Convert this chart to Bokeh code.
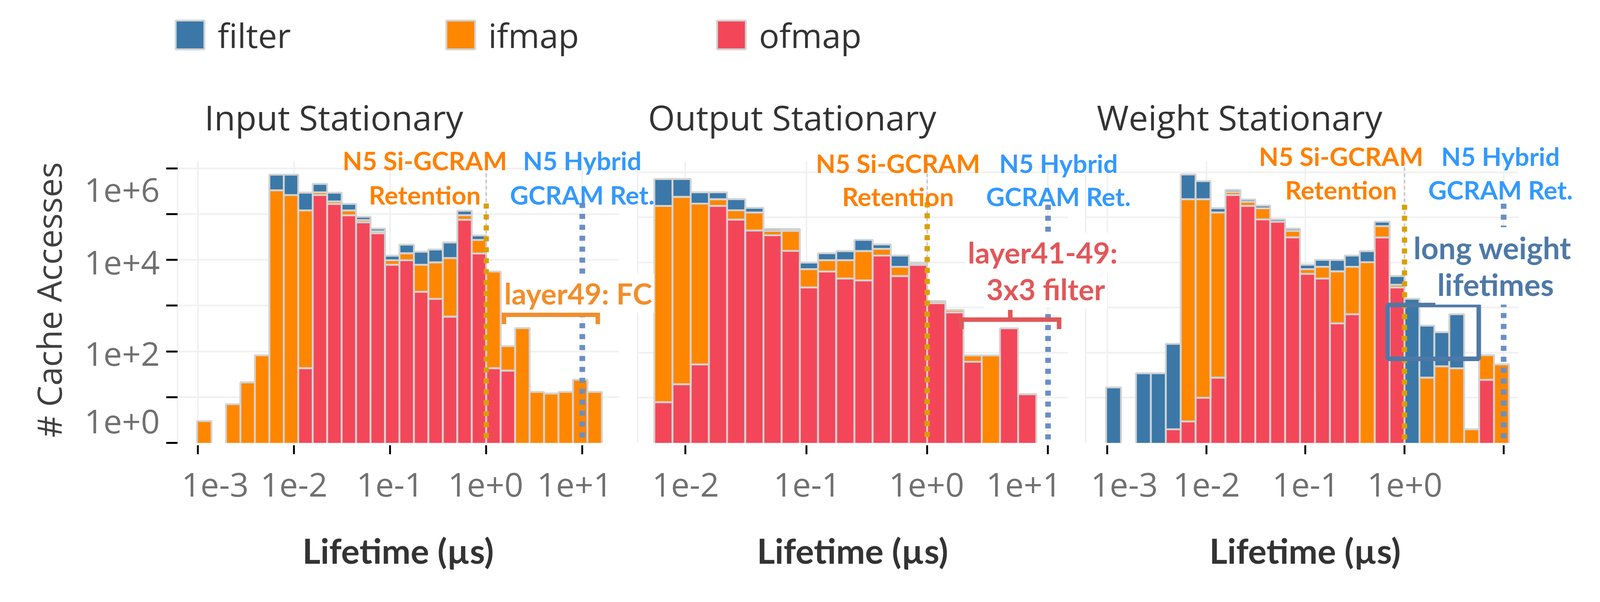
import math
from bokeh.plotting import figure
from bokeh.models import (Range1d, FixedTicker, Label, BoxAnnotation, Legend, LegendItem,
                          ColumnDataSource)
from bokeh.layouts import row, column
from bokeh.embed import file_html
from bokeh.resources import INLINE

# ---------------- data ----------------
CATEGORIES = ["filter", "ifmap", "ofmap"]
BIN_WIDTH_LOG2 = 0.5          # each lifetime bin spans half an octave (log2 of µs)

IS_BIN_LOG2 = [-10.0, -9.5, -9.0, -8.5, -8.0, -7.5, -7.0, -6.5, -6.0, -5.5, -5.0, -4.5, -4.0, -3.5,
               -3.0, -2.5, -2.0, -1.5, -1.0, -0.5, 0.0, 0.5, 1.0, 1.5, 2.0, 2.5, 3.0, 3.5]
IS_FILTER = [0, 0, 0, 0, 0, 396000, 466000, 173000, 157000, 104000, 46000, 13000, 6000, 2500,
             7600, 7200, 8000, 13000, 23400, 6800, 0, 0, 0, 0, 0, 0, 0, 0]
IS_IFMAP = [3, 0, 7, 21, 82, 330000, 260000, 120000, 37000, 23000, 26000, 8000, 4000, 2000,
            4100, 5800, 7400, 10400, 19600, 13400, 5500, 92, 322, 13, 12, 13, 24, 13]
IS_OFMAP = [0, 0, 0, 0, 0, 0, 0, 43, 261000, 166000, 94000, 66000, 38000, 7800,
            9800, 2000, 1400, 574, 75000, 13800, 43, 38, 0, 0, 0, 0, 0, 0]

OS_BIN_LOG2 = [-7.5, -7.0, -6.5, -6.0, -5.5, -5.0, -4.5, -4.0, -3.5, -3.0, -2.5, -2.0, -1.5,
               -1.0, -0.5, 0.0, 0.5, 1.0, 1.5, 2.0, 2.5]
OS_FILTER = [527000, 422000, 157000, 106000, 110000, 34000, 5600, 5000, 2800, 4800, 6600, 13800,
             5000, 6200, 600, 0, 0, 0, 0, 0, 0]
OS_IFMAP = [179000, 284000, 201000, 73000, 54000, 77000, 9700, 32000, 4300, 4900, 6800, 13900,
            5800, 3000, 500, 140, 100, 24, 87, 0, 0]
OS_OFMAP = [8, 20, 55, 179000, 89000, 51000, 40000, 18000, 2800, 6300, 4400, 4000,
            14200, 5000, 8800, 1250, 783, 63, 0, 347, 12]

WS_BIN_LOG2 = [-10.0, -9.5, -9.0, -8.5, -8.0, -7.5, -7.0, -6.5, -6.0, -5.5, -5.0, -4.5, -4.0, -3.5,
               -3.0, -2.5, -2.0, -1.5, -1.0, -0.5, 0.0, 0.5, 1.0, 1.5, 2.0, 2.5, 3.0]
WS_FILTER = [17, 0, 35, 35, 155, 639000, 383000, 31000, 43000, 27000, 23000, 10000, 6000, 1800,
             3400, 5000, 6200, 7700, 16000, 1800, 1560, 369, 235, 665, 0, 0, 0]
WS_IFMAP = [0, 0, 0, 0, 0, 252000, 252000, 128000, 50000, 42000, 69000, 0, 14000, 1500,
            3600, 5900, 7300, 10100, 28000, 400, 0, 28, 50, 45, 2, 63, 55]
WS_OFMAP = [0, 0, 0, 0, 2, 3, 10, 28, 313000, 179000, 90000, 80000, 36000, 5600,
            4400, 448, 710, 0, 35800, 2800, 0, 0, 0, 0, 0, 25, 0]

PANEL_TITLES = ["Input Stationary", "Output Stationary", "Weight Stationary"]
X_TICKS = [1e-3, 1e-2, 1e-1, 1.0, 10.0]
X_TICK_LABELS = ["1e-3", "1e-2", "1e-1", "1e+0", "1e+1"]
Y_TICKS = [1.0, 1e1, 1e2, 1e3, 1e4, 1e5, 1e6]
Y_TICK_LABELS = ["1e+0", "", "1e+2", "", "1e+4", "", "1e+6"]
X_TITLE = "Lifetime (µs)"
Y_TITLE = "# Cache Accesses"

RET_SI = 1.0      # N5 Si-GCRAM retention (µs)
RET_HYB = 10.0    # N5 hybrid GCRAM retention (µs)

# ---------------- styles ----------------
K = 4096 / 4257            # page pixels per picture pixel
FILTER_C, IFMAP_C, OFMAP_C = "#3b78a8", "#ff8700", "#f34759"
COLORS = {"filter": FILTER_C, "ifmap": IFMAP_C, "ofmap": OFMAP_C}
STROKE = "#d3d3d3"
GRID_C = "#f0f0f0"
TICK_TXT = "#707070"
DARK = "#333333"
ORANGE_TXT, BLUE_TXT = "#ff8000", "#3399ff"
GOLD, BLUE_DOT = "#d9a000", "#6a8ec6"
FC_C, RED_TXT, STEEL = "#f28e2b", "#e15759", "#4e79a7"
BOLD_FONT = "Lato"
REG_FONT = "Open Sans"
DESCENT = {"Lato": 0.213, "Open Sans": 0.293}   # em-box descent of each font
FLOOR = 0.1
PAGE_M = 8
FRAME_H = 722
TOP_BORDER, BOTTOM_BORDER = 412, 330
CANVAS_H = TOP_BORDER + FRAME_H + BOTTOM_BORDER
SW = 5 * K                # bar stroke width


def fs(px):
    return f"{px * K:.1f}px"


def make_panel(bins, filt, ifm, ofm, xr, yr, frame_w, left, right):
    p = figure(x_axis_type="log", y_axis_type="log", x_range=Range1d(*xr), y_range=Range1d(*yr),
               frame_width=frame_w, frame_height=FRAME_H, min_border_left=left,
               min_border_right=right, min_border_top=TOP_BORDER, min_border_bottom=BOTTOM_BORDER,
               toolbar_location=None, output_backend="svg", title=None)
    p.outline_line_color = None
    p.background_fill_alpha = 0
    p.border_fill_alpha = 0

    xt = FixedTicker(ticks=X_TICKS)
    yt = FixedTicker(ticks=Y_TICKS)
    ax = p.xaxis[0]
    ax.ticker = xt
    ax.major_label_overrides = {t: "" for t in X_TICKS}
    ax.major_label_text_font_size = "1px"
    ax.major_label_standoff = 0
    ax.axis_line_color = None
    ax.major_tick_line_color = "black"
    ax.major_tick_line_width = 5 * K
    ax.major_tick_in = -6
    ax.major_tick_out = 29
    ax.minor_tick_line_color = None

    ay = p.yaxis[0]
    ay.ticker = yt
    ay.major_label_overrides = {t: "" for t in Y_TICKS}
    ay.major_label_text_font_size = "1px"
    ay.major_label_standoff = 0
    ay.axis_line_color = GRID_C
    ay.axis_line_width = 4 * K
    ay.minor_tick_line_color = None
    ay.major_tick_line_color = None
    ay.major_tick_in = 0
    ay.major_tick_out = 0
    p.xgrid.ticker = xt
    p.ygrid.ticker = yt
    p.grid.grid_line_color = GRID_C
    p.grid.grid_line_width = 4 * K

    # stacked histogram: ofmap at the bottom, then ifmap, then filter
    cum = [0.0] * len(bins)
    for name, vals in (("ofmap", ofm), ("ifmap", ifm), ("filter", filt)):
        d = dict(left=[], right=[], bottom=[], top=[])
        for i, v in enumerate(vals):
            if v > 0:
                d["left"].append(2 ** bins[i])
                d["right"].append(2 ** (bins[i] + BIN_WIDTH_LOG2))
                d["bottom"].append(max(cum[i], FLOOR))
                d["top"].append(cum[i] + v)
            cum[i] += v
        p.quad(left="left", right="right", bottom="bottom", top="top",
               source=ColumnDataSource(d), fill_color=COLORS[name],
               line_color=STROKE, line_width=SW)
    return p


p1 = make_panel(IS_BIN_LOG2, IS_FILTER, IS_IFMAP, IS_OFMAP, (10 ** -3.2133, 10 ** 1.3855),
                (1.0, 10 ** 6.158), 1131, 454, 37)
p2 = make_panel(OS_BIN_LOG2, OS_FILTER, OS_IFMAP, OS_OFMAP, (10 ** -2.3953, 10 ** 1.1633),
                (1.0, 10 ** 6.247), 1101, 10, 36)
p3 = make_panel(WS_BIN_LOG2, WS_FILTER, WS_IFMAP, WS_OFMAP, (10 ** -3.2157, 10 ** 1.1504),
                (1.0, 10 ** 6.247), 1108, 10, 150)

# y ticks only on the first panel
a = p1.yaxis[0]
a.major_tick_line_color = "black"
a.major_tick_line_width = 5 * K
a.major_tick_out = 29

# retention reference lines
for p, top_si, top_hy in ((p1, 1.7e5, 1.75e5), (p2, 2.15e5, 1.9e5), (p3, 1.9e5, 2.0e5)):
    ymax = p.y_range.end
    p.segment(x0=[RET_SI], y0=[ymax], x1=[RET_SI], y1=[FLOOR], line_color="#c8c8c8",
              line_width=4 * K, line_dash="9 7")
    p.segment(x0=[RET_SI], y0=[top_si], x1=[RET_SI], y1=[FLOOR], line_color=GOLD,
              line_width=14 * K, line_dash="13 15")
    p.segment(x0=[RET_HYB], y0=[top_hy], x1=[RET_HYB], y1=[FLOOR], line_color=BLUE_DOT,
              line_width=15 * K, line_dash="13 15")


def bracket(p, x0, x1, ymid, ylo, ytop, color):
    p.line(x=[x0, x0, x1, x1], y=[ylo, ymid, ymid, ylo], line_color=color, line_width=12 * K,
           line_join="miter")
    xc = (x0 * x1) ** 0.5
    p.segment(x0=[xc], y0=[ymid], x1=[xc], y1=[ytop], line_color=color, line_width=12 * K)


bracket(p1, 1.53, 14.5, 630, 393, 886, FC_C)          # layer49 (FC) lifetimes
bracket(p2, 1.92, 12.35, 539, 333, 888, RED_TXT)      # layer41-49 (3x3 filter) lifetimes
p3.add_layout(BoxAnnotation(left=0.676, right=5.61, bottom=73, top=1140, fill_alpha=0,
                            line_alpha=1.0, line_color=STEEL, line_width=12 * K))

# ---------------- transparent text overlay over the whole row ----------------
ROW_W = sum(int(p.frame_width + p.min_border_left + p.min_border_right) for p in (p1, p2, p3))
ov = figure(width=ROW_W, height=CANVAS_H, x_range=Range1d(-3, -2), y_range=Range1d(-3, -2),
            toolbar_location=None, output_backend="svg", min_border=0,
            x_axis_location=None, y_axis_location=None, title=None)
ov.grid.visible = False
ov.outline_line_color = None
ov.background_fill_alpha = 0
ov.border_fill_alpha = 0
ov.margin = (-CANVAS_H, 0, 0, 0)


def txt(text, x, y, color, size, font=BOLD_FONT, bold=True, align="center", bg=None, angle=0.0):
    """x, y: picture-pixel position of the text's alphabetic baseline anchor."""
    kw = dict(background_fill_color=bg, padding=5) if bg else {}
    d = DESCENT[font] * size * K        # lift the em-box bottom onto the baseline
    sx = x * K - PAGE_M - math.sin(angle) * d
    sy = PAGE_M + CANVAS_H - y * K + math.cos(angle) * d
    ov.add_layout(Label(x=sx, y=sy, x_units="screen", y_units="screen", text=text, angle=angle,
                        text_font=font, text_font_size=fs(size),
                        text_font_style="bold" if bold else "normal", text_color=color,
                        text_align=align, text_baseline="alphabetic", **kw))


# legend (glyph renderers kept outside the overlay's visible range)
items = []
for name, vals in (("filter", IS_FILTER), ("ifmap", IS_IFMAP), ("ofmap", IS_OFMAP)):
    src = dict(left=[2 ** b for b, v in zip(IS_BIN_LOG2, vals) if v > 0],
               right=[2 ** (b + BIN_WIDTH_LOG2) for b, v in zip(IS_BIN_LOG2, vals) if v > 0],
               top=[v for v in vals if v > 0])
    src["bottom"] = [FLOOR] * len(src["top"])
    r = ov.quad(left="left", right="right", bottom="bottom", top="top",
                source=ColumnDataSource(src), fill_color=COLORS[name],
                line_color=STROKE, line_width=SW)
    items.append(LegendItem(label=name, renderers=[r]))
ov.add_layout(Legend(items=items, location=(440, 1316), orientation="horizontal",
                     glyph_width=92, glyph_height=92, label_standoff=25, label_width=576,
                     spacing=0, padding=0, margin=0, border_line_alpha=0,
                     background_fill_alpha=0, label_text_font=REG_FONT,
                     label_text_font_size=fs(90), label_text_color=DARK))

# panel titles
for t, x in zip(PANEL_TITLES, (552, 1732, 2926)):
    txt(t, x, 346, DARK, 92, font=REG_FONT, bold=False, align="left")

# y tick labels (first panel) and y title
for lab, y in (("1e+6", 539), ("1e+4", 733), ("1e+2", 976), ("1e+0", 1156)):
    txt(lab, 433, y, TICK_TXT, 88, font=REG_FONT, bold=False, align="right")
txt(Y_TITLE, 163, 806, "#404040", 90, font=REG_FONT, bold=False, angle=math.pi / 2)

# x tick labels, end labels kept inside each axis range
X_LAB_POS = [
    [(491, "left"), (790, "center"), (1045.5, "center"), (1300, "center"), (1637, "right")],
    [None, (1832, "center"), (2155, "center"), (2473, "center"), (2832, "right")],
    [(2910, "left"), (3218, "center"), (3482, "center"), (3745.5, "center"), None],
]
for row_pos in X_LAB_POS:
    for lab, pos in zip(X_TICK_LABELS, row_pos):
        if pos:
            txt(lab, pos[0], 1324, TICK_TXT, 88, font=REG_FONT, bold=False, align=pos[1])
for x in (1067, 2276, 3480):
    txt(X_TITLE, x, 1493, DARK, 92)

# retention annotations: (si centre, hybrid centre, first baseline, second baseline)
for xs, xh, y1, y2 in ((1138, 1557, 449, 540), (2397, 2824, 456, 545), (3576, 4000, 437, 527)):
    txt("N5 Si-GCRAM", xs, y1, ORANGE_TXT, 68)
    txt("Retention", xs, y2, ORANGE_TXT, 68)
    txt("N5 Hybrid", xh, y1, BLUE_TXT, 68)
    txt("GCRAM Ret.", xh, y2, BLUE_TXT, 68)

txt("layer49: FC", 1546, 805, FC_C, 78, bg="white")
txt("3x3 filter", 2790, 793, RED_TXT, 78, bg="white")
txt("layer41-49:", 2782, 696, RED_TXT, 78, bg="white")
txt("lifetimes", 3987, 782, STEEL, 81, bg="white")
txt("long weight", 3979, 684, STEEL, 81, bg="white")

layout = column(row(p1, p2, p3), ov)
open("out.html", "w").write(file_html(layout, INLINE))
